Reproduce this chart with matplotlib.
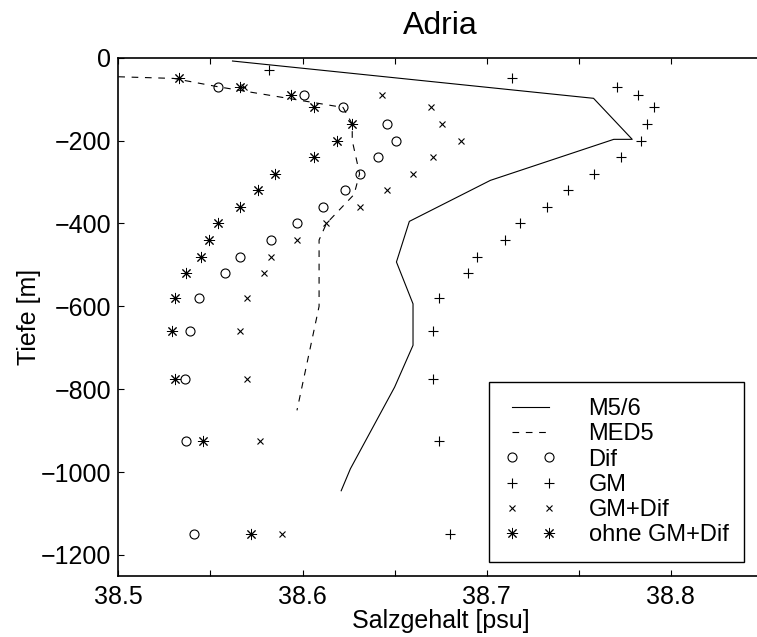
import matplotlib
matplotlib.use("Agg")
import matplotlib.pyplot as plt

plt.rcParams['font.family'] = ['Liberation Sans', 'DejaVu Sans']

# model profiles (lines)
m56_sal = [38.562, 38.758, 38.779, 38.769, 38.702, 38.658, 38.651, 38.660, 38.660, 38.650, 38.626, 38.621]
m56_dep = [-8, -98, -197, -197, -296, -395, -493, -594, -694, -795, -992, -1045]

med5_sal = [38.500, 38.530, 38.554, 38.622, 38.627, 38.627, 38.631, 38.628, 38.613, 38.609, 38.609, 38.597]
med5_dep = [-46, -50, -70, -120, -160, -200, -280, -330, -400, -440, -600, -851]

# model levels for the runs (markers)
depth = [-50, -70, -90, -120, -160, -200, -240, -280, -320, -360, -400, -440,
         -480, -520, -580, -660, -775, -925, -1150]
gm_depth = [-30] + depth

dif = [38.554, 38.601, 38.622, 38.646, 38.651, 38.641, 38.631, 38.623, 38.611,
       38.597, 38.583, 38.566, 38.558, 38.544, 38.539, 38.536, 38.537, 38.541]
gm = [38.582, 38.714, 38.771, 38.782, 38.791, 38.787, 38.784, 38.773, 38.758, 38.744,
      38.733, 38.718, 38.710, 38.695, 38.690, 38.674, 38.671, 38.671, 38.674, 38.680]
gmdif = [38.568, 38.643, 38.670, 38.676, 38.686, 38.671, 38.660, 38.646, 38.631,
         38.613, 38.597, 38.583, 38.579, 38.570, 38.566, 38.570, 38.577, 38.589]
ohne = [38.533, 38.566, 38.594, 38.606, 38.627, 38.619, 38.606, 38.585, 38.576, 38.566,
        38.554, 38.549, 38.545, 38.537, 38.531, 38.529, 38.531, 38.546, 38.572]

xticks = [38.5, 38.55, 38.6, 38.65, 38.7, 38.75, 38.8]
xticklabels = ['38.5', '', '38.6', '', '38.7', '', '38.8']
yticks = [-1200, -1000, -800, -600, -400, -200, 0]

fig = plt.figure(figsize=(7.57, 6.37), dpi=100)
ax = fig.add_axes([118.3 / 757, 61.3 / 637, 644.7 / 757, 518 / 637])

ax.plot(m56_sal, m56_dep, '-', color='k', lw=0.8, label='M5/6')
ax.plot(med5_sal, med5_dep, '--', color='k', lw=0.8, dashes=(6, 6), label='MED5')
ax.plot(dif, depth[1:], 'o', color='k', mfc='none', ms=6.5, mew=0.8, label='Dif')
ax.plot(gm, gm_depth, '+', color='k', ms=7.5, mew=0.8, label='GM')
ax.plot(gmdif, depth[1:], 'x', color='k', ms=5, mew=0.8, label='GM+Dif')
ax.plot(ohne, depth, marker=(8, 2, 0), ls='none', color='k', ms=8, mew=0.7,
        label='ohne GM+Dif')

ax.set_xlim(38.5, 38.85)
ax.set_ylim(-1250, 0)
ax.set_xticks(xticks)
ax.set_xticklabels(xticklabels)
ax.set_yticks(yticks)
ax.tick_params(direction='in', top=True, right=True, length=4.5, width=0.8,
               labelsize=18)
ax.tick_params(axis='x', pad=7)
ax.tick_params(axis='y', pad=5)
for s in ax.spines.values():
    s.set_linewidth(1.2)

ax.set_title('Adria', fontsize=23, pad=17)
ax.set_xlabel('Salzgehalt [psu]', fontsize=18, labelpad=0)
ax.set_ylabel('Tiefe [m]', fontsize=18)
ax.yaxis.set_label_coords(-0.12, 0.5)

leg = ax.legend(loc='lower right', bbox_to_anchor=(744 / 757, 75 / 637),
                bbox_transform=fig.transFigure, borderaxespad=0, numpoints=2,
                fontsize=17, handlelength=2.2, handletextpad=1.36, labelspacing=0.14,
                borderpad=0.66, fancybox=False, framealpha=1, edgecolor='k')
leg.get_frame().set_linewidth(1.0)

fig.savefig('out.png', dpi=100)
